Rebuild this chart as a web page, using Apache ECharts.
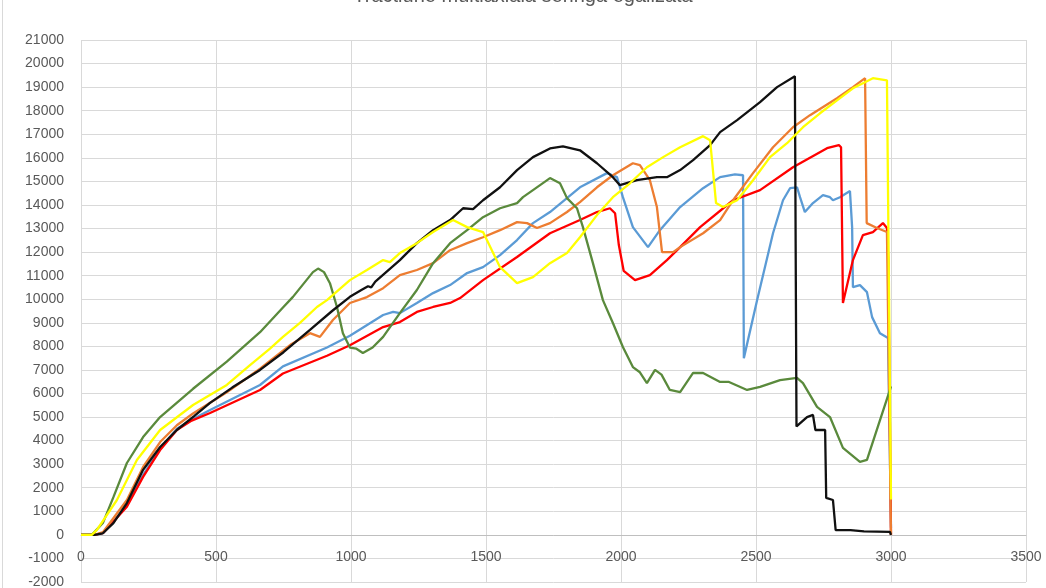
<!DOCTYPE html>
<html>
<head>
<meta charset="utf-8">
<title>Tractiuni</title>
<script src="https://cdn.jsdelivr.net/npm/echarts@6/dist/echarts.min.js"></script>
<style>
  html, body { margin: 0; padding: 0; background: #ffffff; }
  #chart { width: 1046px; height: 588px; }
</style>
</head>
<body>
<div id="chart"></div>
<script>
// Axis ticks
const xTicks = { min: 0, max: 3500, step: 500 };
const yTicks = { min: -2000, max: 21000, step: 1000 };

const chartTitle = 'Tractiune multiaxiala seringa egalizata';

// Measured curves, [x, y] pairs
const blueData = [[0,0],[50,0],[82,80],[170,1250],[230,2550],[293,3650],[355,4500],[420,4950],[478,5300],[663,6360],[748,7150],[911,7950],[996,8450],[1119,9330],[1156,9460],[1181,9410],[1244,9840],[1304,10260],[1367,10600],[1430,11110],[1489,11360],[1552,11870],[1615,12510],[1674,13230],[1737,13700],[1848,14750],[1948,15350],[1985,15180],[2007,14330],[2044,13060],[2100,12210],[2144,12930],[2219,13910],[2304,14710],[2367,15180],[2422,15300],[2452,15260],[2455,7500],[2504,9960],[2563,12800],[2600,14200],[2626,14710],[2652,14750],[2663,14330],[2681,13700],[2711,14080],[2748,14420],[2774,14330],[2785,14200],[2811,14330],[2848,14590],[2856,13060],[2859,10510],[2885,10600],[2911,10300],[2930,9240],[2959,8560],[2989,8350],[3000,300]];

const redData = [[0,0],[50,0],[82,80],[170,1190],[230,2460],[293,3600],[355,4450],[410,4850],[478,5170],[663,6150],[748,6850],[911,7600],[996,8050],[1119,8820],[1181,9030],[1244,9460],[1304,9670],[1367,9840],[1404,10050],[1489,10810],[1615,11790],[1737,12800],[1848,13360],[1911,13700],[1959,13860],[1978,13650],[1992,12300],[2010,11200],[2052,10810],[2107,11020],[2170,11660],[2219,12210],[2293,13060],[2415,14200],[2515,14630],[2637,15600],[2763,16410],[2807,16540],[2815,16450],[2822,9840],[2859,11660],[2896,12720],[2933,12850],[2970,13230],[2985,13020],[2990,11660],[3000,0]];

const orangeData = [[0,0],[50,0],[82,120],[170,1480],[230,2880],[293,3940],[355,4650],[415,5150],[540,6050],[663,7050],[780,8100],[848,8560],[885,8400],[933,9120],[996,9840],[1059,10090],[1119,10470],[1181,11020],[1244,11240],[1304,11530],[1367,12080],[1430,12380],[1489,12630],[1552,12930],[1615,13270],[1652,13230],[1689,13020],[1737,13230],[1800,13700],[1848,14120],[1911,14750],[1970,15260],[2044,15770],[2070,15690],[2107,15050],[2133,13910],[2152,12000],[2193,12000],[2219,12210],[2304,12800],[2367,13360],[2415,14200],[2489,15350],[2563,16450],[2637,17300],[2700,17810],[2800,18530],[2859,19000],[2904,19380],[2910,13230],[2948,13020],[2985,12850],[3000,0]];

const greenData = [[0,0],[40,0],[81,500],[120,1600],[170,3050],[230,4150],[293,5000],[415,6200],[540,7350],[663,8600],[748,9650],[785,10100],[859,11150],[878,11300],[900,11150],[922,10680],[948,9670],[970,8560],[996,7950],[1020,7900],[1044,7720],[1080,7950],[1119,8400],[1181,9410],[1244,10390],[1304,11530],[1367,12380],[1430,12930],[1489,13480],[1552,13860],[1615,14080],[1637,14330],[1674,14630],[1737,15140],[1774,14920],[1800,14290],[1837,13860],[1859,13060],[1896,11530],[1933,9960],[1970,8990],[2007,7970],[2044,7120],[2070,6900],[2096,6440],[2126,7000],[2150,6800],[2181,6150],[2219,6060],[2267,6870],[2304,6870],[2367,6490],[2400,6490],[2467,6150],[2515,6280],[2589,6570],[2652,6660],[2674,6440],[2726,5430],[2774,5000],[2822,3690],[2885,3100],[2911,3180],[2996,6150],[3000,6300]];

const blackData = [[0,0],[50,0],[80,60],[120,500],[170,1350],[230,2760],[293,3730],[355,4450],[420,5050],[478,5600],[560,6250],[663,7000],[750,7750],[848,8700],[930,9500],[996,10100],[1040,10400],[1063,10550],[1075,10500],[1090,10750],[1181,11660],[1244,12380],[1304,12930],[1367,13360],[1415,13860],[1452,13820],[1489,14200],[1552,14750],[1615,15480],[1674,16030],[1737,16400],[1785,16490],[1848,16320],[1911,15770],[1970,15180],[1996,14840],[2059,15050],[2133,15180],[2170,15180],[2219,15480],[2267,15900],[2330,16540],[2367,17090],[2430,17600],[2515,18360],[2578,19000],[2644,19460],[2650,4600],[2689,5000],[2711,5090],[2720,4450],[2756,4450],[2760,1570],[2785,1480],[2795,200],[2850,200],[2900,150],[2996,130],[3000,0]];

const yellowData = [[0,0],[40,0],[59,210],[133,1480],[207,3180],[293,4450],[415,5510],[540,6360],[626,7200],[700,7900],[748,8400],[811,9000],[874,9670],[911,9960],[996,10810],[1059,11240],[1119,11660],[1144,11570],[1181,11960],[1244,12380],[1304,12850],[1378,13360],[1430,13060],[1489,12850],[1552,11360],[1615,10680],[1674,10940],[1737,11530],[1800,11960],[1848,12630],[1911,13570],[1970,14330],[2033,14920],[2096,15600],[2156,16030],[2219,16450],[2304,16920],[2330,16750],[2352,14080],[2378,13910],[2430,14200],[2489,15050],[2552,16030],[2615,16620],[2674,17300],[2737,17890],[2800,18440],[2859,18950],[2933,19380],[2985,19290],[3000,1500]];

const curves = [
  { name: 'Proba 1', color: '#5b9bd5', data: blueData },
  { name: 'Proba 2', color: '#ff0000', data: redData },
  { name: 'Proba 3', color: '#ed7d31', data: orangeData },
  { name: 'Proba 4', color: '#5a8a3c', data: greenData },
  { name: 'Proba 5', color: '#111111', data: blackData },
  { name: 'Proba 6', color: '#ffff00', data: yellowData }
];

const labelStyle = { color: '#595959', fontSize: 14, fontFamily: 'Liberation Sans, Arial, sans-serif' };
const gridColor = '#d9d9d9';
const plainNumber = v => String(v);

// Plot area: 21000 at y=40, -2000 at y=582
const gridTop = 40;
const gridBottom = 6;
const plotHeight = 588 - gridTop - gridBottom;
// shift the value labels of x up so they hang under the zero line
const zeroOffset = -plotHeight * (0 - yTicks.min) / (yTicks.max - yTicks.min);

const chart = echarts.init(document.getElementById('chart'), null, { renderer: 'canvas' });
chart.setOption({
  animation: false,
  backgroundColor: '#ffffff',
  title: {
    text: chartTitle,
    left: 'center',
    top: -19,
    textStyle: { color: '#595959', fontSize: 20, fontWeight: 'normal', fontFamily: 'Liberation Sans, Arial, sans-serif' }
  },
  graphic: [{
    type: 'line',
    shape: { x1: 2.5, y1: 0, x2: 2.5, y2: 588 },
    style: { stroke: '#d9d9d9', lineWidth: 1 }
  }],
  grid: { left: 81, right: 20, top: gridTop, bottom: gridBottom, containLabel: false, outerBoundsMode: 'none' },
  xAxis: {
    type: 'value',
    position: 'bottom',
    offset: zeroOffset,
    min: xTicks.min, max: xTicks.max, interval: xTicks.step,
    axisLine: { show: true, onZero: false, lineStyle: { color: '#bfbfbf', width: 1 } },
    axisTick: { show: false },
    axisLabel: Object.assign({ margin: 15, formatter: plainNumber }, labelStyle),
    splitLine: { show: true, lineStyle: { color: gridColor, width: 1 } }
  },
  yAxis: {
    type: 'value',
    min: yTicks.min, max: yTicks.max, interval: yTicks.step,
    axisLine: { show: false },
    axisTick: { show: false },
    axisLabel: Object.assign({ margin: 17, formatter: plainNumber }, labelStyle),
    splitLine: { show: true, lineStyle: { color: gridColor, width: 1 } }
  },
  series: curves.map(c => ({
    name: c.name,
    type: 'line',
    data: c.data,
    showSymbol: false,
    clip: true,
    lineStyle: { color: c.color, width: 2.3 },
    itemStyle: { color: c.color }
  }))
});
</script>
</body>
</html>
